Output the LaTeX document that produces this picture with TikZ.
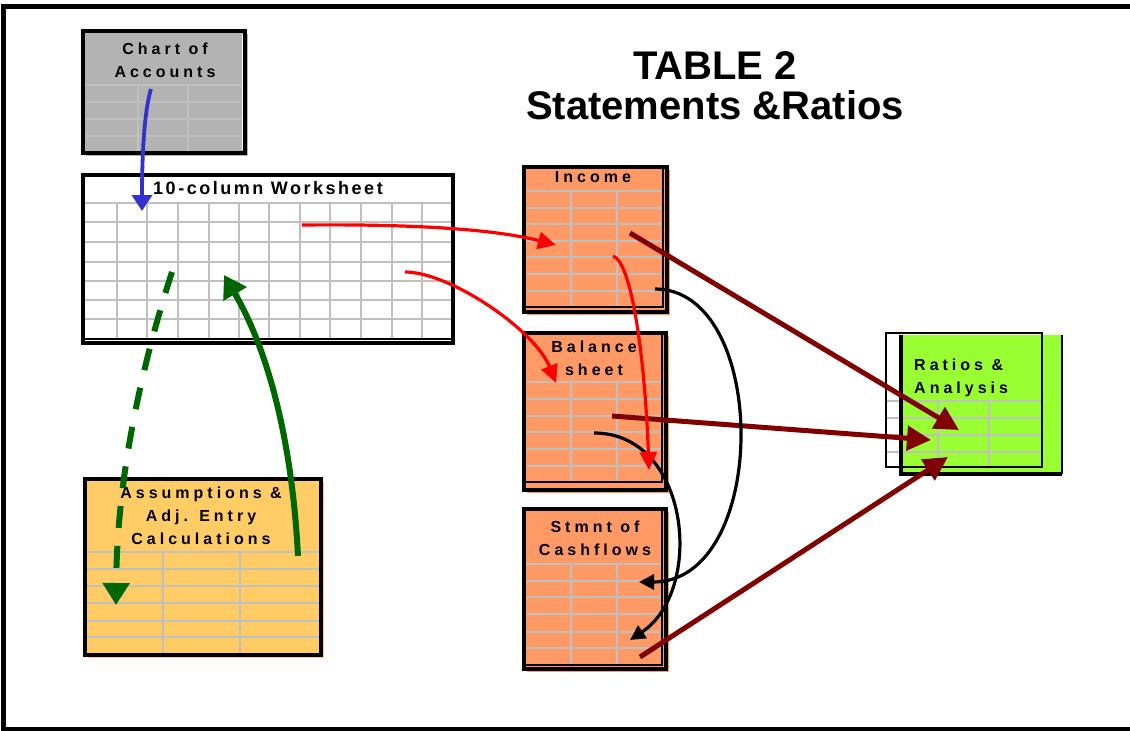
\documentclass[tikz,border=0pt]{standalone}
\usepackage{fontspec}
\setmainfont{Liberation Sans}
\newfontfamily\widefont[LetterSpace=25]{Liberation Sans}
\newfontfamily\headfont[LetterSpace=14]{Liberation Sans}
\usetikzlibrary{arrows.meta, positioning, shadows}
\definecolor{sheetgray}{RGB}{179,179,179}
\definecolor{gridgray}{RGB}{192,192,192}
\definecolor{salmon}{RGB}{255,153,102}
\definecolor{paleorange}{RGB}{255,204,102}
\definecolor{limegreen}{RGB}{153,255,51}
\definecolor{arrowblue}{RGB}{51,51,204}
\definecolor{darkred}{RGB}{128,0,0}
\definecolor{darkgreen}{RGB}{0,102,0}
\tikzset{
    sheet/.style={anchor=north west, inner sep=0pt, outer sep=0pt},
    sheetshadow/.style={general shadow={fill=#1, shadow xshift=3pt, shadow yshift=-3pt}},
    sheetedge/.style={draw=black, line width=3.5pt},
    thinedge/.style={draw=black, line width=1.2pt},
    gridline/.style={draw=gridgray, line width=1.6pt},
    sheetlbl/.style={font=\widefont\bfseries\fontsize{16}{23}\selectfont,
                     align=center, inner sep=0pt},
    headlbl/.style={font=\headfont\bfseries\fontsize{18}{22}\selectfont, inner sep=0pt},
    titletext/.style={font=\bfseries\fontsize{40}{40}\selectfont, align=center, inner sep=0pt},
    bluearrow/.style={draw=arrowblue, line width=3.8pt, -{Triangle[length=16pt, width=20pt]}},
    redarrow/.style={draw=red, line width=3.2pt, -{Triangle[length=18pt, width=17pt]}},
    blackarrow/.style={draw=black, line width=3.2pt, -{Triangle[length=15pt, width=15pt]}},
    feedarrow/.style={draw=darkred, line width=5pt, -{Triangle[length=24pt, width=24pt]}},
    greenarrow/.style={draw=darkgreen, line width=6pt, -{Triangle[length=22pt, width=26pt]}},
    greendash/.style={greenarrow, dash pattern=on 22pt off 18pt},
}
\begin{document}
\begin{tikzpicture}[x=1pt, y=-1pt]
    \useasboundingbox (0,0) rectangle (1130,731);
    % page frame
    \draw[line width=5pt] (1140,6) -- (3.5,6) -- (3.5,729) -- (1140,729);

    \node[titletext] (title) at (715,86) {TABLE 2\\Statements \&Ratios};

    % chart of accounts
    \node[sheet, fill=sheetgray, sheetshadow=sheetgray, minimum width=162pt, minimum height=122pt] (chart) at (83,31) {};
    \foreach \y in {85,102,119,136} \draw[gridline] (83,\y) -- (245,\y);
    \foreach \x in {138,188} \draw[gridline] (\x,85) -- (\x,153);
    \draw[sheetedge, line width=4pt] (chart.north west) rectangle (chart.south east);
    \draw[white, line width=0.8pt] (242.5,34) -- (242.5,150);
    \node[sheetlbl] (chartlbl) at (165,60.5) {Chart of\\Accounts};

    % worksheet
    \node[sheet, fill=white, minimum width=370pt, minimum height=168pt] (ws) at (83,175) {};
    \foreach \y in {203,222,242,262,281,300,319} \draw[gridline] (83,\y) -- (453,\y);
    \foreach \x in {117,147,178,209,239,269,300,330,361,392,422} \draw[gridline] (\x,203) -- (\x,339);
    \draw[thinedge] (83,339) -- (453,339);
    \draw[sheetedge] (ws.north west) rectangle (ws.south east);
    \node[headlbl] (wslbl) at (268,188) {10-column Worksheet};

    % income statement
    \node[sheet, fill=salmon, sheetshadow=salmon, minimum width=143pt, minimum height=145pt] (income) at (524,167) {};
    \foreach \y in {191,208,224,241,257,274,291} \draw[gridline] (524,\y) -- (667,\y);
    \foreach \x in {571,617} \draw[gridline] (\x,191) -- (\x,307);
    \draw[thinedge] (524,307) -- (663,307) -- (663,167);
    \draw[sheetedge] (income.north west) rectangle (income.south east);
    \node[sheetlbl] (inclbl) at (593,177) {Income};

    % balance sheet
    \node[sheet, fill=salmon, sheetshadow=salmon, minimum width=142pt, minimum height=157pt] (bal) at (524,333) {};
    \foreach \y in {382,399,416,432,449,466} \draw[gridline] (524,\y) -- (666,\y);
    \foreach \x in {571,617} \draw[gridline] (\x,382) -- (\x,482);
    \draw[thinedge] (524,482) -- (662,482) -- (662,333);
    \draw[sheetedge] (bal.north west) rectangle (bal.south east);
    \node[sheetlbl] (ballbl) at (594,358) {Balance\\sheet};

    % cash flows
    \node[sheet, fill=salmon, sheetshadow=salmon, minimum width=142pt, minimum height=160pt] (cash) at (524,509) {};
    \foreach \y in {564,581,597,614,632,648} \draw[gridline] (524,\y) -- (666,\y);
    \foreach \x in {571,617} \draw[gridline] (\x,564) -- (\x,665);
    \draw[thinedge] (524,665) -- (662,665) -- (662,509);
    \draw[sheetedge] (cash.north west) rectangle (cash.south east);
    \node[sheetlbl] (cashlbl) at (595,538.5) {Stmnt of\\Cashflows};

    % assumptions
    \node[sheet, fill=paleorange, sheetshadow=paleorange, minimum width=236pt, minimum height=176pt] (assum) at (85,479) {};
    \foreach \y in {552,569,586,603,621,637} \draw[gridline] (85,\y) -- (319,\y);
    \foreach \x in {163,240} \draw[gridline] (\x,552) -- (\x,655);
    \draw[sheetedge, line width=4pt] (assum.north west) rectangle (assum.south east);
    \node[sheetlbl] (assumlbl) at (201,515.5) {Assumptions \&\\Adj. Entry\\Calculations};

    % ratios
    \node[sheet, fill=limegreen, minimum width=161pt, minimum height=139pt] (ratios) at (901,335) {};
    \fill[white] (886,333) rectangle (901,467);
    \foreach \y in {401,418,435,452} \draw[gridline] (886,\y) -- (1042,\y);
    \foreach \x in {938,989} \draw[gridline] (\x,401) -- (\x,467);
    \draw[thinedge, line width=2.5pt] (886,333) rectangle (1042,467);
    \draw[thinedge] (ratios.north east) -- (ratios.south east);
    \draw[sheetedge] (ratios.north west) -- (ratios.south west) -- (ratios.south east);
    \node[sheetlbl, align=left, anchor=west] (ratlbl) at (914,378) {Ratios \&\\Analysis};

    % link end points
    \coordinate (chartout) at (151,89);
    \coordinate (wsin) at (142,211);
    \coordinate (wsA) at (302,225);
    \coordinate (wsB) at (405,272);
    \coordinate (wsC) at (172,272);
    \coordinate (wsD) at (224,275);
    \coordinate (incin) at (556,245);
    \coordinate (incA) at (613,256);
    \coordinate (incB) at (655,289);
    \coordinate (incC) at (630,233);
    \coordinate (balin) at (556,383);
    \coordinate (balA) at (649,470);
    \coordinate (balB) at (594,433);
    \coordinate (balC) at (612,416);
    \coordinate (cashA) at (639,582);
    \coordinate (cashB) at (630,640);
    \coordinate (cashC) at (640,657);
    \coordinate (ratA) at (959,430);
    \coordinate (ratB) at (931,440);
    \coordinate (ratC) at (948,457);
    \coordinate (assumin) at (116,605);
    \coordinate (assumout) at (298,556);

    \draw[bluearrow] (chartout) .. controls (146,105) and (142,140) .. (wsin);

    \draw[feedarrow] (incC) -- (ratA);
    \draw[feedarrow] (balC) -- (ratB);
    \draw[feedarrow] (cashC) -- (ratC);

    \draw[blackarrow] (incB) .. controls (770,289) and (770,582) .. (cashA);
    \draw[blackarrow] (balB) .. controls (690,433) and (705,590) .. (cashB);

    \draw[redarrow] (wsA) .. controls (400,224) and (490,228) .. (incin);
    \draw[redarrow] (wsB) .. controls (450,272) and (535,330) .. (balin);
    \draw[redarrow] (incA) .. controls (632,262) and (645,360) .. (balA);

    \draw[greendash] (wsC) .. controls (150,340) and (117,460) .. (assumin);
    \draw[greenarrow] (assumout) .. controls (292,440) and (268,350) .. (wsD);
\end{tikzpicture}
\end{document}
